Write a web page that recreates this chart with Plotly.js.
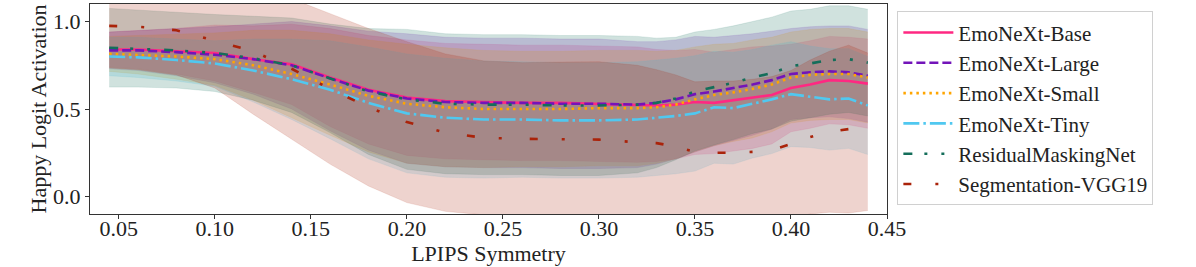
<!DOCTYPE html>
<html>
<head>
<meta charset="utf-8">
<script src="https://cdn.plot.ly/plotly-3.0.1.min.js"></script>
<style>html,body{margin:0;padding:0;background:#fff;}#chart{width:1196px;height:267px;}</style>
</head>
<body>
<div id="chart"></div>
<script>
const xs = [0.045, 0.06, 0.08, 0.10, 0.12, 0.14, 0.16, 0.18, 0.20, 0.22, 0.24, 0.26, 0.28, 0.30, 0.32, 0.33, 0.34, 0.35, 0.36, 0.37, 0.38, 0.39, 0.40, 0.41, 0.42, 0.43, 0.44];

const seriesNames = ["EmoNeXt-Base", "EmoNeXt-Large", "EmoNeXt-Small", "EmoNeXt-Tiny", "ResidualMaskingNet", "Segmentation-VGG19"];

const baseMean  = [0.84, 0.84, 0.83, 0.82, 0.785, 0.755, 0.68, 0.61, 0.565, 0.545, 0.54, 0.535, 0.535, 0.53, 0.525, 0.52, 0.525, 0.54, 0.535, 0.55, 0.565, 0.58, 0.62, 0.64, 0.665, 0.66, 0.645];
const largeMean = [0.835, 0.835, 0.825, 0.81, 0.785, 0.75, 0.675, 0.605, 0.56, 0.54, 0.535, 0.535, 0.53, 0.53, 0.525, 0.535, 0.555, 0.585, 0.60, 0.62, 0.64, 0.665, 0.70, 0.71, 0.715, 0.71, 0.69];
const smallMean = [0.815, 0.81, 0.80, 0.785, 0.75, 0.70, 0.64, 0.575, 0.53, 0.51, 0.50, 0.50, 0.50, 0.505, 0.505, 0.51, 0.525, 0.555, 0.58, 0.595, 0.615, 0.64, 0.68, 0.695, 0.70, 0.70, 0.68];
const tinyMean  = [0.80, 0.795, 0.78, 0.76, 0.72, 0.67, 0.61, 0.535, 0.475, 0.45, 0.44, 0.44, 0.435, 0.435, 0.44, 0.45, 0.46, 0.475, 0.51, 0.505, 0.53, 0.555, 0.585, 0.57, 0.555, 0.56, 0.52];
const rmnMean   = [0.85, 0.845, 0.835, 0.82, 0.79, 0.75, 0.675, 0.60, 0.555, 0.53, 0.525, 0.525, 0.52, 0.52, 0.525, 0.535, 0.56, 0.60, 0.625, 0.65, 0.68, 0.705, 0.745, 0.76, 0.78, 0.785, 0.765];
const segMean   = [0.975, 0.97, 0.95, 0.89, 0.83, 0.73, 0.615, 0.51, 0.425, 0.365, 0.335, 0.33, 0.328, 0.325, 0.31, 0.305, 0.285, 0.255, 0.25, 0.25, 0.255, 0.265, 0.30, 0.34, 0.37, 0.385, 0.37];

const baseStd  = [0.10, 0.11, 0.13, 0.16, 0.19, 0.23, 0.28, 0.31, 0.33, 0.33, 0.33, 0.33, 0.33, 0.33, 0.33, 0.32, 0.31, 0.30, 0.29, 0.29, 0.29, 0.28, 0.25, 0.25, 0.25, 0.25, 0.255];
const largeStd = [0.105, 0.115, 0.135, 0.16, 0.20, 0.25, 0.30, 0.34, 0.37, 0.37, 0.37, 0.37, 0.37, 0.37, 0.36, 0.35, 0.34, 0.33, 0.31, 0.30, 0.29, 0.28, 0.26, 0.26, 0.26, 0.265, 0.265];
const smallStd = [0.10, 0.11, 0.13, 0.15, 0.20, 0.25, 0.29, 0.32, 0.34, 0.34, 0.335, 0.33, 0.33, 0.33, 0.33, 0.32, 0.31, 0.30, 0.29, 0.28, 0.28, 0.27, 0.26, 0.26, 0.26, 0.26, 0.26];
const tinyStd  = [0.11, 0.115, 0.12, 0.13, 0.18, 0.23, 0.28, 0.32, 0.34, 0.34, 0.335, 0.33, 0.33, 0.33, 0.33, 0.33, 0.33, 0.33, 0.32, 0.32, 0.31, 0.31, 0.30, 0.29, 0.29, 0.285, 0.28];
const rmnStd   = [0.225, 0.22, 0.215, 0.22, 0.24, 0.27, 0.31, 0.36, 0.40, 0.40, 0.40, 0.40, 0.40, 0.40, 0.39, 0.37, 0.35, 0.34, 0.33, 0.325, 0.32, 0.32, 0.315, 0.31, 0.31, 0.305, 0.305];
const segStd   = [0.24, 0.245, 0.255, 0.27, 0.36, 0.40, 0.43, 0.45, 0.46, 0.45, 0.44, 0.435, 0.44, 0.445, 0.44, 0.42, 0.41, 0.40, 0.41, 0.41, 0.415, 0.42, 0.42, 0.44, 0.46, 0.48, 0.45];

const means = [baseMean, largeMean, smallMean, tinyMean, rmnMean, segMean];
const stds  = [baseStd, largeStd, smallStd, tinyStd, rmnStd, segStd];
const rgb   = [[255, 40, 130], [115, 20, 185], [255, 165, 0], [80, 200, 240], [20, 110, 90], [170, 35, 10]];
const dashes = ["solid", "9px,4px", "2.5px,4px", "16px,4px,2.5px,4px", "9px,12px,3px,14px,3px,14px", "8px,24px,3px,28px"];

const traces = [];
for (let i = 0; i < seriesNames.length; i++) {
  const c = rgb[i];
  const lo = means[i].map((m, k) => m - stds[i][k]);
  const hi = means[i].map((m, k) => m + stds[i][k]);
  traces.push({x: xs, y: lo, type: 'scatter', mode: 'lines', line: {width: 0.6, color: `rgba(${c[0]},${c[1]},${c[2]},0.2)`}, showlegend: false, hoverinfo: 'skip'});
  traces.push({x: xs, y: hi, type: 'scatter', mode: 'lines', fill: 'tonexty', fillcolor: `rgba(${c[0]},${c[1]},${c[2]},0.2)`, line: {width: 0.6, color: `rgba(${c[0]},${c[1]},${c[2]},0.2)`}, showlegend: false, hoverinfo: 'skip'});
}
for (let i = 0; i < seriesNames.length; i++) {
  const c = rgb[i];
  traces.push({x: xs, y: means[i], type: 'scatter', mode: 'lines', name: seriesNames[i],
    line: {width: 2.6, color: `rgb(${c[0]},${c[1]},${c[2]})`, dash: dashes[i]}});
}

const fontFam = '"Liberation Serif", "Times New Roman", serif';
const layout = {
  width: 1196, height: 267,
  margin: {l: 90, r: 309, t: 4, b: 53},
  paper_bgcolor: '#fff', plot_bgcolor: '#fff',
  font: {family: fontFam, size: 22, color: '#222'},
  showlegend: true,
  legend: {x: 1.013, xanchor: 'left', y: 0.965, yanchor: 'top', traceorder: 'normal',
    font: {family: fontFam, size: 21, color: '#222'},
    bgcolor: 'rgba(255,255,255,0.8)', bordercolor: '#d0d0d0', borderwidth: 1,
    itemwidth: 50},
  xaxis: {range: [0.035, 0.45], tickvals: [0.05, 0.10, 0.15, 0.20, 0.25, 0.30, 0.35, 0.40, 0.45], tickformat: '.2f',
    showgrid: false, zeroline: false, showline: true, mirror: true, linecolor: '#333', linewidth: 1,
    ticks: 'outside', ticklen: 4, tickcolor: '#333', ticklabelstandoff: -9,
    tickfont: {family: fontFam, size: 22},
    title: {text: 'LPIPS Symmetry', font: {family: fontFam, size: 22}, standoff: 0}},
  yaxis: {range: [-0.1, 1.1], tickvals: [0.0, 0.5, 1.0], tickformat: '.1f',
    showgrid: false, zeroline: false, showline: true, mirror: true, linecolor: '#333', linewidth: 1,
    ticks: 'outside', ticklen: 4, tickcolor: '#333',
    tickfont: {family: fontFam, size: 22},
    title: {text: 'Happy Logit Activation', font: {family: fontFam, size: 22}, standoff: 0}}
};

Plotly.newPlot('chart', traces, layout, {displayModeBar: false, staticPlot: true});
</script>
</body>
</html>
